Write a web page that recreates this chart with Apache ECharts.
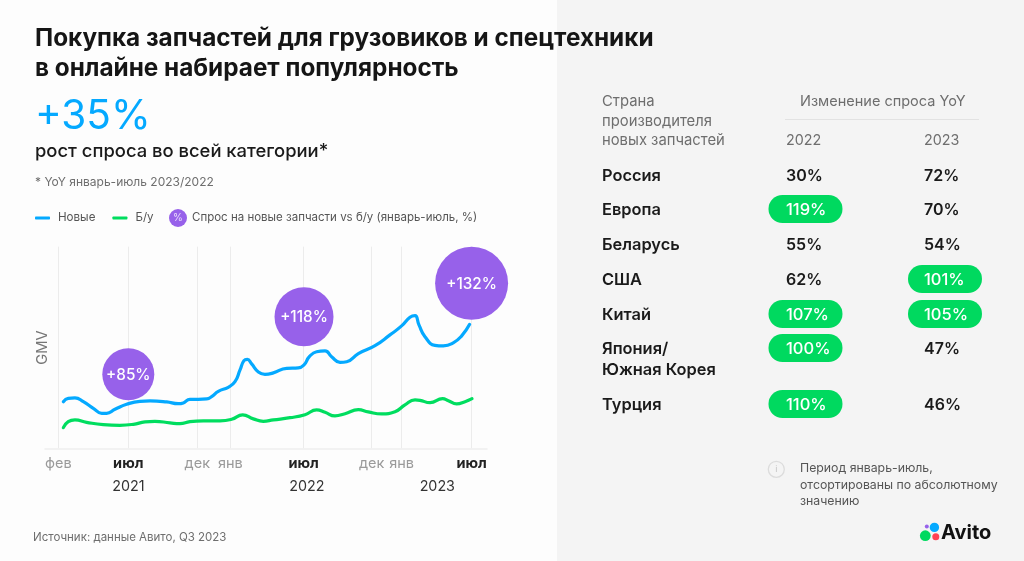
<!DOCTYPE html>
<html><head><meta charset="utf-8">
<style>html,body{margin:0;padding:0;background:#fdfdfd}#c{width:1024px;height:561px}</style>
<script src="https://cdn.jsdelivr.net/npm/echarts@6/dist/echarts.min.js"></script>
</head><body><div id="c"></div>
<script>
const FONT = 'Inter, "Noto Sans", sans-serif';
const newX = [0.36,0.71,1.19,1.79,2.5,3.1,3.45,4.05,4.88,5.83,6.55,7.74,8.57,8.93,9.4,10,10.6,10.95,11.43,12.14,12.62,12.98,13.26,13.5,13.81,14.29,14.76,15.36,16.31,17.14,17.55,17.93,18.45,19.05,19.52,20.12,20.6,21.43,22.62,23.69,24.52,25.12,25.48,25.76,26.19,26.9,27.5,28.21,28.81,29.38];
const newVals = [23.3,25,25.2,23.3,20,17.5,17.5,19.5,22,23.5,23.7,23.2,22.3,22.7,24.5,24.5,24.7,25.8,28.5,30.5,33.3,39.2,43.8,44.5,42.2,38.2,37,37.7,40,40.2,41.7,45.8,48.3,48.7,45.8,43,43.3,47.3,51.3,56.7,61.2,65.5,66.3,61.7,55.8,51.5,51.2,52.7,56.2,62];
const usedX = [0.36,0.71,1.19,2.02,3.21,4.4,5.36,6.19,6.9,7.98,8.69,9.4,10.36,11.55,12.38,13.17,13.93,14.64,15.36,16.55,17.62,18.45,19.05,19.76,20.48,21.43,22.14,23.1,24.05,24.76,25.48,25.83,26.55,27.45,27.86,28.45,29.05,29.55];
const usedVals = [10.3,13.3,14.2,13,11.8,11.5,12,13.2,13.5,12.7,12.3,13.3,13.7,13.7,14.5,16.7,14.7,13.5,14.2,15.3,16.8,19.2,18,16.2,17.3,19.3,18.2,17.2,18.3,21.7,24.2,24,22.8,24.8,23.8,22.2,23.3,24.8];
const tickVals = [0,5,9.93,12.29,17.52,22.38,24.52,29.52];
const tickNames = ['фев','июл','дек','янв','июл','дек','янв','июл'];
const yearVals = [5,17.76,27.07];
const yearNames = ['2021','2022','2023'];
const bubbleX = [5,17.55,29.52];
const bubbleY = [37.0,65.8,82.5];
const bubblePct = [85,118,132];
const countries = ['Россия','Европа','Беларусь','США','Китай','Япония/\nЮжная Корея','Турция'];
const demand2022 = [30,119,55,62,107,100,110];
const demand2023 = [72,70,54,101,105,47,46];

const C_NEW='#04a9ff', C_USED='#00dd5f', C_PURPLE='#9761ea', DARK='#1a1a1a', GREY='#6e6e6e';
const bubbleDiam = [52,59,73];
const rowY = [175,209,244,279,314,348,404];

function txt(x,y,text,size,color,weight,extra){
  return {type:'text',x,y:y+1,z:10,style:Object.assign({text,fontSize:size,fill:color,fontWeight:weight||400,fontFamily:FONT,textVerticalAlign:'middle',verticalAlign:'middle'},extra||{})};
}
const g = [];
g.push({type:'rect',z:-10,shape:{x:557,y:0,width:467,height:561},style:{fill:'#f4f4f4'}});
g.push(txt(35,116,'+35%',40.5,C_NEW,400));
g.push(txt(35,150,'рост спроса во всей категории*',18.4,DARK,500));
g.push(txt(35,181,'* YoY январь-июль 2023/2022',12,GREY,400));
g.push(txt(33,537,'Источник: данные Авито, Q3 2023',11.5,GREY,400));
g.push(txt(178,217,'%',10,'#e8dcfb',400,{textAlign:'center',align:'center'}));
// table head
g.push(txt(602,101,'Страна',14.8,GREY));
g.push(txt(602,121,'производителя',14.8,GREY));
g.push(txt(602,140,'новых запчастей',14.8,GREY));
g.push(txt(800,101,'Изменение спроса YoY',14.5,GREY));
g.push({type:'line',shape:{x1:785,y1:119.5,x2:979,y2:119.5},style:{stroke:'#e2e2e2',lineWidth:1}});
g.push(txt(786,140,'2022',14.3,GREY));
g.push(txt(924,140,'2023',14.3,GREY));
countries.forEach((c,i)=>{
  const y=rowY[i];
  c.split('\n').forEach((line,k)=>g.push(txt(602,y+k*21.5,line,16.4,DARK,600)));
  [[demand2022[i],768.5,786],[demand2023[i],908,924]].forEach(([v,px,tx])=>{
    const hi=v>=100;
    if(hi) g.push({type:'rect',z:5,shape:{x:px,y:y-14,width:74,height:28,r:14},style:{fill:'#00d95f'}});
    g.push(txt(tx,y,v+'%',hi?16.5:16,hi?'#fff':DARK,hi?500:600));
  });
});
// note
g.push({type:'circle',shape:{cx:776.3,cy:469.3,r:8},style:{fill:'none',stroke:'#dcdcdc',lineWidth:1.3}});
g.push(txt(776.3,468.5,'i',9,'#c4c4c4',400,{textAlign:'center',align:'center'}));
g.push(txt(800,467,'Период январь-июль,',12.3,'#555'));
g.push(txt(800,484,'отсортированы по абсолютному',12.3,'#555'));
g.push(txt(800,500,'значению',12.3,'#555'));
// logo
g.push({type:'circle',shape:{cx:925.3,cy:535.7,r:5.4},style:{fill:'#00d95f'}});
g.push({type:'circle',shape:{cx:934.4,cy:527.4,r:4.7},style:{fill:'#04a9ff'}});
g.push({type:'circle',shape:{cx:935.8,cy:536.8,r:3.5},style:{fill:'#ff4053'}});
g.push({type:'circle',shape:{cx:926.8,cy:526.4,r:2},style:{fill:'#9761ea'}});
g.push(txt(941,532,'Avito',20,'#111',700));

const zip=(a,b)=>a.map((x,i)=>[x,b[i]]);
const chart=echarts.init(document.getElementById('c'),null,{renderer:'canvas'});
chart.setOption({
  animation:false,
  backgroundColor:'#fdfdfd',
  textStyle:{fontFamily:FONT},
  title:{left:30,top:19,text:'Покупка запчастей для грузовиков и спецтехники\nв онлайне набирает популярность',
    textStyle:{fontFamily:FONT,fontSize:24.3,fontWeight:700,color:'#151515',lineHeight:30}},
  legend:[
    {left:30,top:207,data:['Новые','Б/у'],icon:'roundRect',itemWidth:15,itemHeight:3,itemGap:17,
     textStyle:{fontSize:11.6,color:'#555',fontFamily:FONT,padding:[0,0,0,3]}},
    {left:164,top:204,data:['Спрос на новые запчасти vs б/у (январь-июль, %)'],icon:'circle',itemWidth:18,itemHeight:18,itemGap:4,
     textStyle:{fontSize:11.5,color:'#555',fontFamily:FONT}}
  ],
  grid:{left:45,right:537,top:246.7,bottom:112.7},
  xAxis:[
    {type:'value',min:-0.95,max:30.62,
     axisLine:{show:true,lineStyle:{color:'#eeeeee',width:1.5}},axisTick:{show:false,customValues:tickVals},
     splitLine:{show:true,lineStyle:{color:'#ececec',width:1}},
     axisLabel:{customValues:tickVals,margin:8,fontSize:14.5,color:'#9a9a9a',fontFamily:FONT,
       formatter:v=>{const n=tickNames[tickVals.indexOf(v)];return n==='июл'?'{b|'+n+'}':n;},
       rich:{b:{fontSize:14.5,fontWeight:700,color:'#222',fontFamily:FONT}}}},
    {type:'value',min:-0.95,max:30.62,position:'bottom',offset:23,
     axisLine:{show:false},axisTick:{show:false,customValues:yearVals},splitLine:{show:false},
     axisLabel:{customValues:yearVals,margin:8,fontSize:14.3,color:'#333',fontFamily:FONT,
       formatter:v=>yearNames[yearVals.indexOf(v)]}}
  ],
  yAxis:{type:'value',min:0,max:100.8,axisLine:{show:false},axisTick:{show:false},axisLabel:{show:false},splitLine:{show:false},
    name:'GMV',nameLocation:'middle',nameGap:-5,nameRotate:90,nameTextStyle:{fontSize:14.8,color:'#777',fontFamily:FONT}},
  series:[
    {name:'Новые',type:'line',data:zip(newX,newVals),smooth:0.5,showSymbol:false,lineStyle:{color:C_NEW,width:3.2,cap:'round'},itemStyle:{color:C_NEW},z:3},
    {name:'Б/у',type:'line',data:zip(usedX,usedVals),smooth:0.5,showSymbol:false,lineStyle:{color:C_USED,width:3.2,cap:'round'},itemStyle:{color:C_USED},z:3},
    {name:'Спрос на новые запчасти vs б/у (январь-июль, %)',type:'scatter',z:4,
     data:bubbleX.map((x,i)=>({value:[x,bubbleY[i],bubblePct[i]],symbolSize:bubbleDiam[i]})),
     itemStyle:{color:C_PURPLE,opacity:1},
     label:{show:true,position:'inside',offset:[0,1],formatter:p=>'+'+p.value[2]+'%',color:'#fff',fontSize:15.3,fontWeight:500,fontFamily:FONT}}
  ],
  graphic:g
});
</script></body></html>
